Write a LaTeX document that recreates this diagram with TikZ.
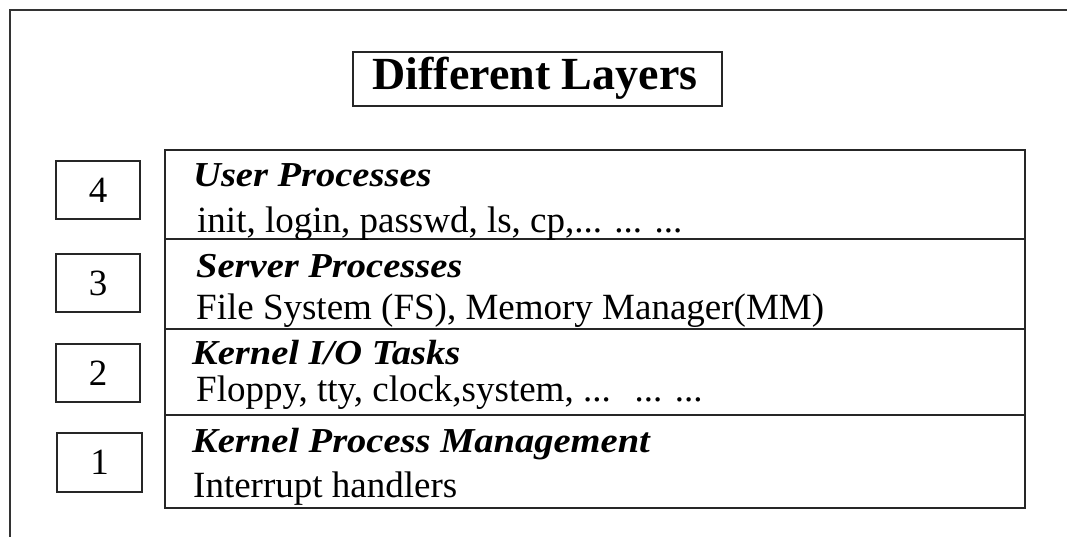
\documentclass[tikz,border=0pt]{standalone}
\usepackage{fontspec}
\setmainfont{Liberation Serif}
\newfontfamily\headfont{Liberation Serif}[FakeStretch=1.1]
\begin{document}
\begin{tikzpicture}[x=1pt,y=-1pt,
  frameline/.style={draw=black!80,line width=1.8pt},
  boxline/.style={draw=black!85,line width=1.8pt},
  numbox/.style={boxline,rectangle,inner sep=0pt,minimum width=84pt,minimum height=58pt,font=\fontsize{37}{40}\selectfont},
  layer/.style={boxline,rectangle,inner sep=0pt,minimum width=860pt},
  head/.style={anchor=base west,inner sep=0pt,font=\headfont\fontsize{35}{38}\selectfont\bfseries\itshape},
  body/.style={anchor=base west,inner sep=0pt,font=\fontsize{37}{40}\selectfont},
  titlebox/.style={boxline,rectangle,inner sep=0pt,minimum width=369pt,minimum height=54pt}
]
\useasboundingbox (0,0) rectangle (1067,537);
\fill[white] (0,0) rectangle (1067,537);
% outer frame (cut by image edges)
\coordinate (fa) at (10,540);
\coordinate (fb) at (10,10);
\coordinate (fc) at (1070,10);
\draw[frameline] (fa) -- (fb) -- (fc);
% title
\node[titlebox] (title) at (537.5,79) {};
\node[anchor=base,inner sep=0pt,font=\fontsize{46}{50}\selectfont\bfseries] (titletext) at (535,90) {Different Layers};
% layers
\node[layer,minimum height=89pt] (l4) at (595,194.5) {};
\node[layer,minimum height=90pt] (l3) at (595,284) {};
\node[layer,minimum height=86pt] (l2) at (595,372) {};
\node[layer,minimum height=93pt] (l1) at (595,461.5) {};
% numbers
\node[numbox] (n4) at (98,190) {4};
\node[numbox] (n3) at (98,283) {3};
\node[numbox] (n2) at (98,373) {2};
\node[numbox,minimum width=85pt,minimum height=59pt] (n1) at (99.5,462.5) {1};
% texts
\node[head] (h4) at (193,187) {User Processes};
\node[body] (b4) at (197,233) {init, login, passwd, ls, cp,... ... ...};
\node[head] (h3) at (196,277) {Server Processes};
\node[body] (b3) at (196,319) {File System (FS), Memory Manager(MM)};
\node[head] (h2) at (192,364) {Kernel I/O Tasks};
\node[body] (b2) at (196,401) {Floppy, tty, clock,system, ...\hspace{24pt}... ...};
\node[head] (h1) at (192,452) {Kernel Process Management};
\node[body] (b1) at (193,497) {Interrupt handlers};
\end{tikzpicture}
\end{document}
